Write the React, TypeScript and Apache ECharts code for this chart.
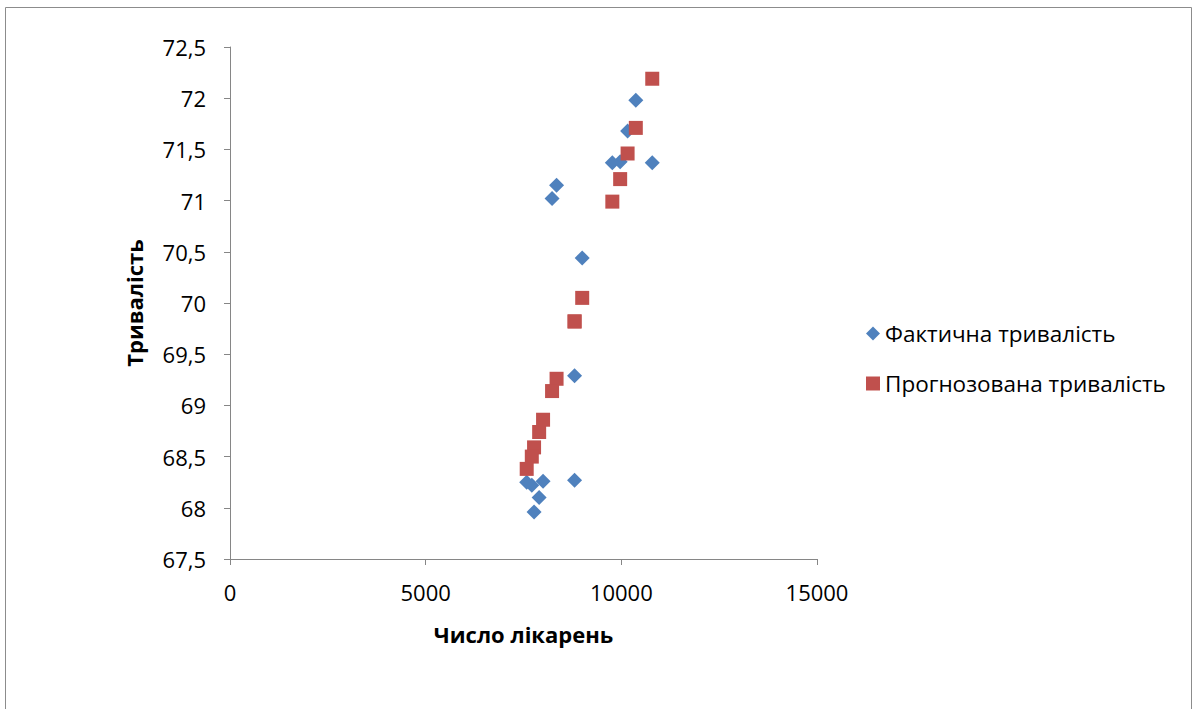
import React, { useEffect, useRef } from "react";
import * as echarts from "echarts";

const hospitals = [10790, 10370, 10160, 9970, 9770, 9000, 8805, 8805, 8345, 8230, 8000, 7900, 7770, 7712, 7582];
const actualDuration = [71.37, 71.98, 71.68, 71.38, 71.37, 70.44, 69.29, 68.27, 71.15, 71.02, 68.26, 68.10, 67.96, 68.22, 68.25];
const predictedDuration = [72.19, 71.71, 71.46, 71.21, 70.99, 70.05, 69.82, 69.82, 69.26, 69.14, 68.86, 68.74, 68.59, 68.50, 68.38];

const seriesNames = ["Фактична тривалість", "Прогнозована тривалість"];
const xAxisTitle = "Число лікарень";
const yAxisTitle = "Тривалість";

const FONT = "'Open Sans', 'Noto Sans', sans-serif";

export default function App() {
  const ref = useRef<HTMLDivElement>(null);
  useEffect(() => {
    if (!ref.current) return;
    const chart = echarts.init(ref.current, null, { renderer: "svg" });
    const actual = hospitals.map((x, i) => [x, actualDuration[i]]);
    const predicted = hospitals.map((x, i) => [x, predictedDuration[i]]);
    chart.setOption({
      animation: false,
      backgroundColor: "#ffffff",
      textStyle: { fontFamily: FONT },
      graphic: [
        {
          type: "rect",
          shape: { x: 5.5, y: 7.5, width: 1186, height: 720 },
          style: { fill: "none", stroke: "#8c8c8c", lineWidth: 1 },
          silent: true,
        },
      ],
      grid: { left: 230, right: 382, top: 47, bottom: 150, containLabel: false },
      legend: {
        orient: "vertical",
        left: 861,
        top: 317,
        itemGap: 27,
        itemWidth: 14,
        itemHeight: 14,
        textStyle: { fontFamily: FONT, fontSize: 22.5, lineHeight: 22, color: "#000" },
        data: [
          { name: seriesNames[0], icon: "diamond" },
          { name: seriesNames[1], icon: "rect" },
        ],
      },
      xAxis: {
        type: "value",
        min: 0,
        max: 15000,
        interval: 5000,
        name: xAxisTitle,
        nameLocation: "middle",
        nameGap: 64,
        nameTextStyle: { fontFamily: FONT, fontSize: 22, fontWeight: "bold", color: "#000" },
        axisLine: { show: true, onZero: false, lineStyle: { color: "#868686", width: 1 } },
        axisTick: { show: true, inside: false, length: 6, lineStyle: { color: "#868686" } },
        axisLabel: {
          fontFamily: FONT,
          fontSize: 22,
          color: "#000",
          margin: 22,
          formatter: (v: number) => String(v),
        },
        splitLine: { show: false },
      },
      yAxis: {
        type: "value",
        min: 67.5,
        max: 72.5,
        interval: 0.5,
        name: yAxisTitle,
        nameLocation: "middle",
        nameGap: 85,
        nameRotate: 90,
        nameTextStyle: { fontFamily: FONT, fontSize: 22, fontWeight: "bold", color: "#000" },
        axisLine: { show: true, onZero: false, lineStyle: { color: "#868686", width: 1 } },
        axisTick: { show: true, inside: false, length: 6, lineStyle: { color: "#868686" } },
        axisLabel: {
          fontFamily: FONT,
          fontSize: 22,
          color: "#000",
          margin: 24,
          formatter: (v: number) => String(v).replace(".", ","),
        },
        splitLine: { show: false },
      },
      series: [
        {
          name: seriesNames[0],
          type: "scatter",
          symbol: "diamond",
          symbolSize: 15,
          itemStyle: { color: "#4F81BD", opacity: 1 },
          data: actual,
          z: 2,
        },
        {
          name: seriesNames[1],
          type: "scatter",
          symbol: "rect",
          symbolSize: 14,
          itemStyle: { color: "#C0504D", opacity: 1 },
          data: predicted,
          z: 3,
        },
      ],
    });
    return () => chart.dispose();
  }, []);
  return (
    <div
      ref={ref}
      style={{ position: "fixed", left: 0, top: 0, width: 1199, height: 709, background: "#fff" }}
    />
  );
}
